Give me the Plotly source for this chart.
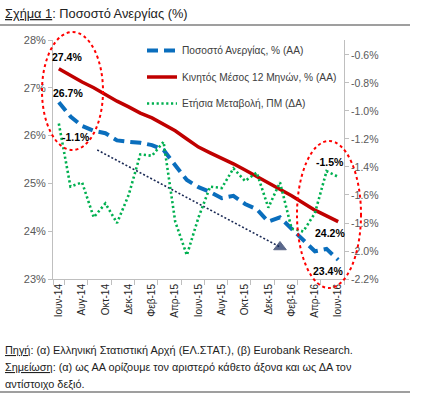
import plotly.graph_objects as go

# ---------------- data ----------------
month_labels = ["Ιουν-14", "Ιουλ-14", "Αυγ-14", "Σεπ-14", "Οκτ-14", "Νοε-14", "Δεκ-14",
                "Ιαν-15", "Φεβ-15", "Μαρ-15", "Απρ-15", "Μαϊ-15", "Ιουν-15", "Ιουλ-15",
                "Αυγ-15", "Σεπ-15", "Οκτ-15", "Νοε-15", "Δεκ-15", "Ιαν-16", "Φεβ-16",
                "Μαρ-16", "Απρ-16", "Μαϊ-16", "Ιουν-16"]

unemployment = [26.7, 26.4, 26.2, 26.1, 26.05, 25.9, 25.87, 25.85, 25.8, 25.7, 25.38, 25.07,
                24.92, 24.82, 24.69, 24.74, 24.57, 24.46, 24.2, 24.29, 24.05, 23.82, 23.58,
                23.63, 23.4]

moving_avg_12m = [27.4, 27.25, 27.12, 27.0, 26.85, 26.72, 26.6, 26.47, 26.37, 26.24, 26.1,
                  25.93, 25.76, 25.64, 25.53, 25.41, 25.28, 25.15, 25.01, 24.88, 24.74,
                  24.59, 24.44, 24.32, 24.2]

annual_change_pp = [-1.09, -1.54, -1.51, -1.76, -1.66, -1.80, -1.60, -1.31, -1.32, -1.22,
                    -1.79, -2.03, -1.76, -1.54, -1.55, -1.41, -1.50, -1.44, -1.69, -1.51,
                    -1.84, -1.86, -1.73, -1.43, -1.47]

left_ticks = [23, 24, 25, 26, 27, 28]
right_ticks = [-2.2, -2.0, -1.8, -1.6, -1.4, -1.2, -1.0, -0.8, -0.6]

series_names = ["Ποσοστό Ανεργίας, % (ΑΑ)", "Κινητός Μέσος 12 Μηνών, % (ΑΑ)",
                "Ετήσια Μεταβολή, ΠΜ (ΔΑ)"]

# trend arrow (month index, % left axis)
trend_x = [3.3, 19.0]
trend_y = [25.7, 23.67]

title_text = "<u>Σχήμα 1</u>: Ποσοστό Ανεργίας (%)"
note_lines = ["<u>Πηγή</u>: (α) Ελληνική Στατιστική Αρχή (ΕΛ.ΣΤΑΤ.), (β) Eurobank Research.",
              "<u>Σημείωση</u>: (α) ως ΑΑ ορίζουμε τον αριστερό κάθετο άξονα και ως ΔΑ τον",
              "αντίστοιχο δεξιό."]

# ---------------- layout geometry (pixels) ----------------
W, H = 435, 395
PL, PR, PT, PB = 53, 344, 40, 279  # plot area


def px(x):
    return (x - PL) / (PR - PL)


def py(y):
    return (PB - y) / (PB - PT)


x_idx = list(range(len(month_labels)))
FONT = "Liberation Sans, Arial"
BLUE = "#0A6EBD"
RED = "#C00000"
GREEN = "#00B050"

fig = go.Figure()
fig.add_trace(go.Scatter(x=x_idx, y=unemployment, name=series_names[0], mode="lines",
                         line=dict(color=BLUE, width=4, dash="11px,6px"),
                         legendgroup="a"))
fig.add_trace(go.Scatter(x=x_idx, y=moving_avg_12m, name=series_names[1], mode="lines",
                         line=dict(color=RED, width=3.5), legendgroup="b"))
fig.add_trace(go.Scatter(x=x_idx, y=annual_change_pp, name=series_names[2], mode="lines",
                         yaxis="y2", line=dict(color=GREEN, width=2.6, dash="2.2px,2.6px"),
                         legendgroup="c"))
fig.add_trace(go.Scatter(x=trend_x, y=trend_y, mode="lines+markers", showlegend=False,
                         line=dict(color="#1B2A55", width=1.6, dash="2px,2px"),
                         marker=dict(symbol=["circle", "triangle-up"], size=[0, 11],
                                     color="#13285C"),
                         hoverinfo="skip"))

# data labels
label_specs = [
    (0, moving_avg_12m[0], "y", 8, 12),
    (0, unemployment[0], "y", 9, 9),
    (0, annual_change_pp[0], "y2", 17, -13),
    (24, annual_change_pp[-1], "y2", -8, 15),
    (24, moving_avg_12m[-1], "y", -8, -11),
    (24, unemployment[-1], "y", -10, -11),
]
for xi, v, yref, dx, dy in label_specs:
    fig.add_annotation(x=xi, y=v, xref="x", yref=yref, text=f"<b>{v:.1f}%</b>",
                       showarrow=False, xshift=dx, yshift=dy,
                       font=dict(family=FONT, size=10.5, color="#000000"))

# ellipses
fig.add_shape(type="circle", xref="paper", yref="paper", x0=px(42), x1=px(103),
              y0=py(150), y1=py(32), line=dict(color="#FF0000", width=2, dash="dot"))
fig.add_shape(type="circle", xref="paper", yref="paper", x0=px(297), x1=px(361),
              y0=py(288), y1=py(141), line=dict(color="#FF0000", width=2, dash="dot"))

# frame lines
fig.add_shape(type="line", xref="paper", yref="paper", x0=px(0), x1=px(410),
              y0=py(25), y1=py(25), line=dict(color="#404040", width=1.2))
fig.add_shape(type="line", xref="paper", yref="paper", x0=px(0), x1=px(410),
              y0=py(392), y1=py(392), line=dict(color="#404040", width=1.2))

fig.add_annotation(xref="paper", yref="paper", x=px(3), y=py(13), xanchor="left",
                   yanchor="middle", text=title_text, showarrow=False,
                   font=dict(family=FONT, size=12.8, color="#222222"))
for txt, yy in zip(note_lines, [350, 367, 384]):
    fig.add_annotation(xref="paper", yref="paper", x=px(3), y=py(yy), xanchor="left",
                       yanchor="middle", text=txt, showarrow=False,
                       font=dict(family=FONT, size=10.9, color="#222222"))

fig.update_layout(
    width=W, height=H,
    margin=dict(l=PL, r=W - PR, t=PT, b=H - PB),
    paper_bgcolor="white", plot_bgcolor="white",
    font=dict(family=FONT, color="#404040"),
    showlegend=True,
    legend=dict(x=px(142), y=py(36), xanchor="left", yanchor="top",
                bgcolor="rgba(0,0,0,0)", font=dict(family=FONT, size=10.2, color="#404040"),
                tracegroupgap=7.5, itemwidth=30),
    xaxis=dict(range=[-0.5, 24.5], tickvals=x_idx[::2], ticktext=month_labels[::2],
               tickangle=-90, ticks="", showline=True, linecolor="#BFBFBF", linewidth=1,
               showgrid=False, zeroline=False,
               tickfont=dict(family=FONT, size=10, color="#262626"),
               minor=dict(tickvals=[v - 0.5 for v in x_idx[1::2]] + [-0.5, 24.5],
                          ticks="outside", ticklen=5, tickcolor="#BFBFBF")),
    yaxis=dict(range=[23, 28], tickvals=left_ticks,
               ticktext=[f"{v}%" for v in left_ticks], ticks="outside", ticklen=4,
               tickcolor="#BFBFBF", showline=True, linecolor="#BFBFBF", showgrid=False,
               zeroline=False, tickfont=dict(family=FONT, size=11, color="#595959")),
    yaxis2=dict(range=[-2.2, -0.493], overlaying="y", side="right", tickvals=right_ticks,
                ticktext=[f"{v:.1f}%" for v in right_ticks], ticks="outside", ticklen=4,
                tickcolor="#BFBFBF", showline=True, linecolor="#BFBFBF", showgrid=False,
                zeroline=False, tickfont=dict(family=FONT, size=10.5, color="#595959")),
)

# remove the default page margin so the figure sits at the window's top-left corner
fig.write_html("out.html", config={"displayModeBar": False},
               post_script="document.body.style.margin='0px';")
